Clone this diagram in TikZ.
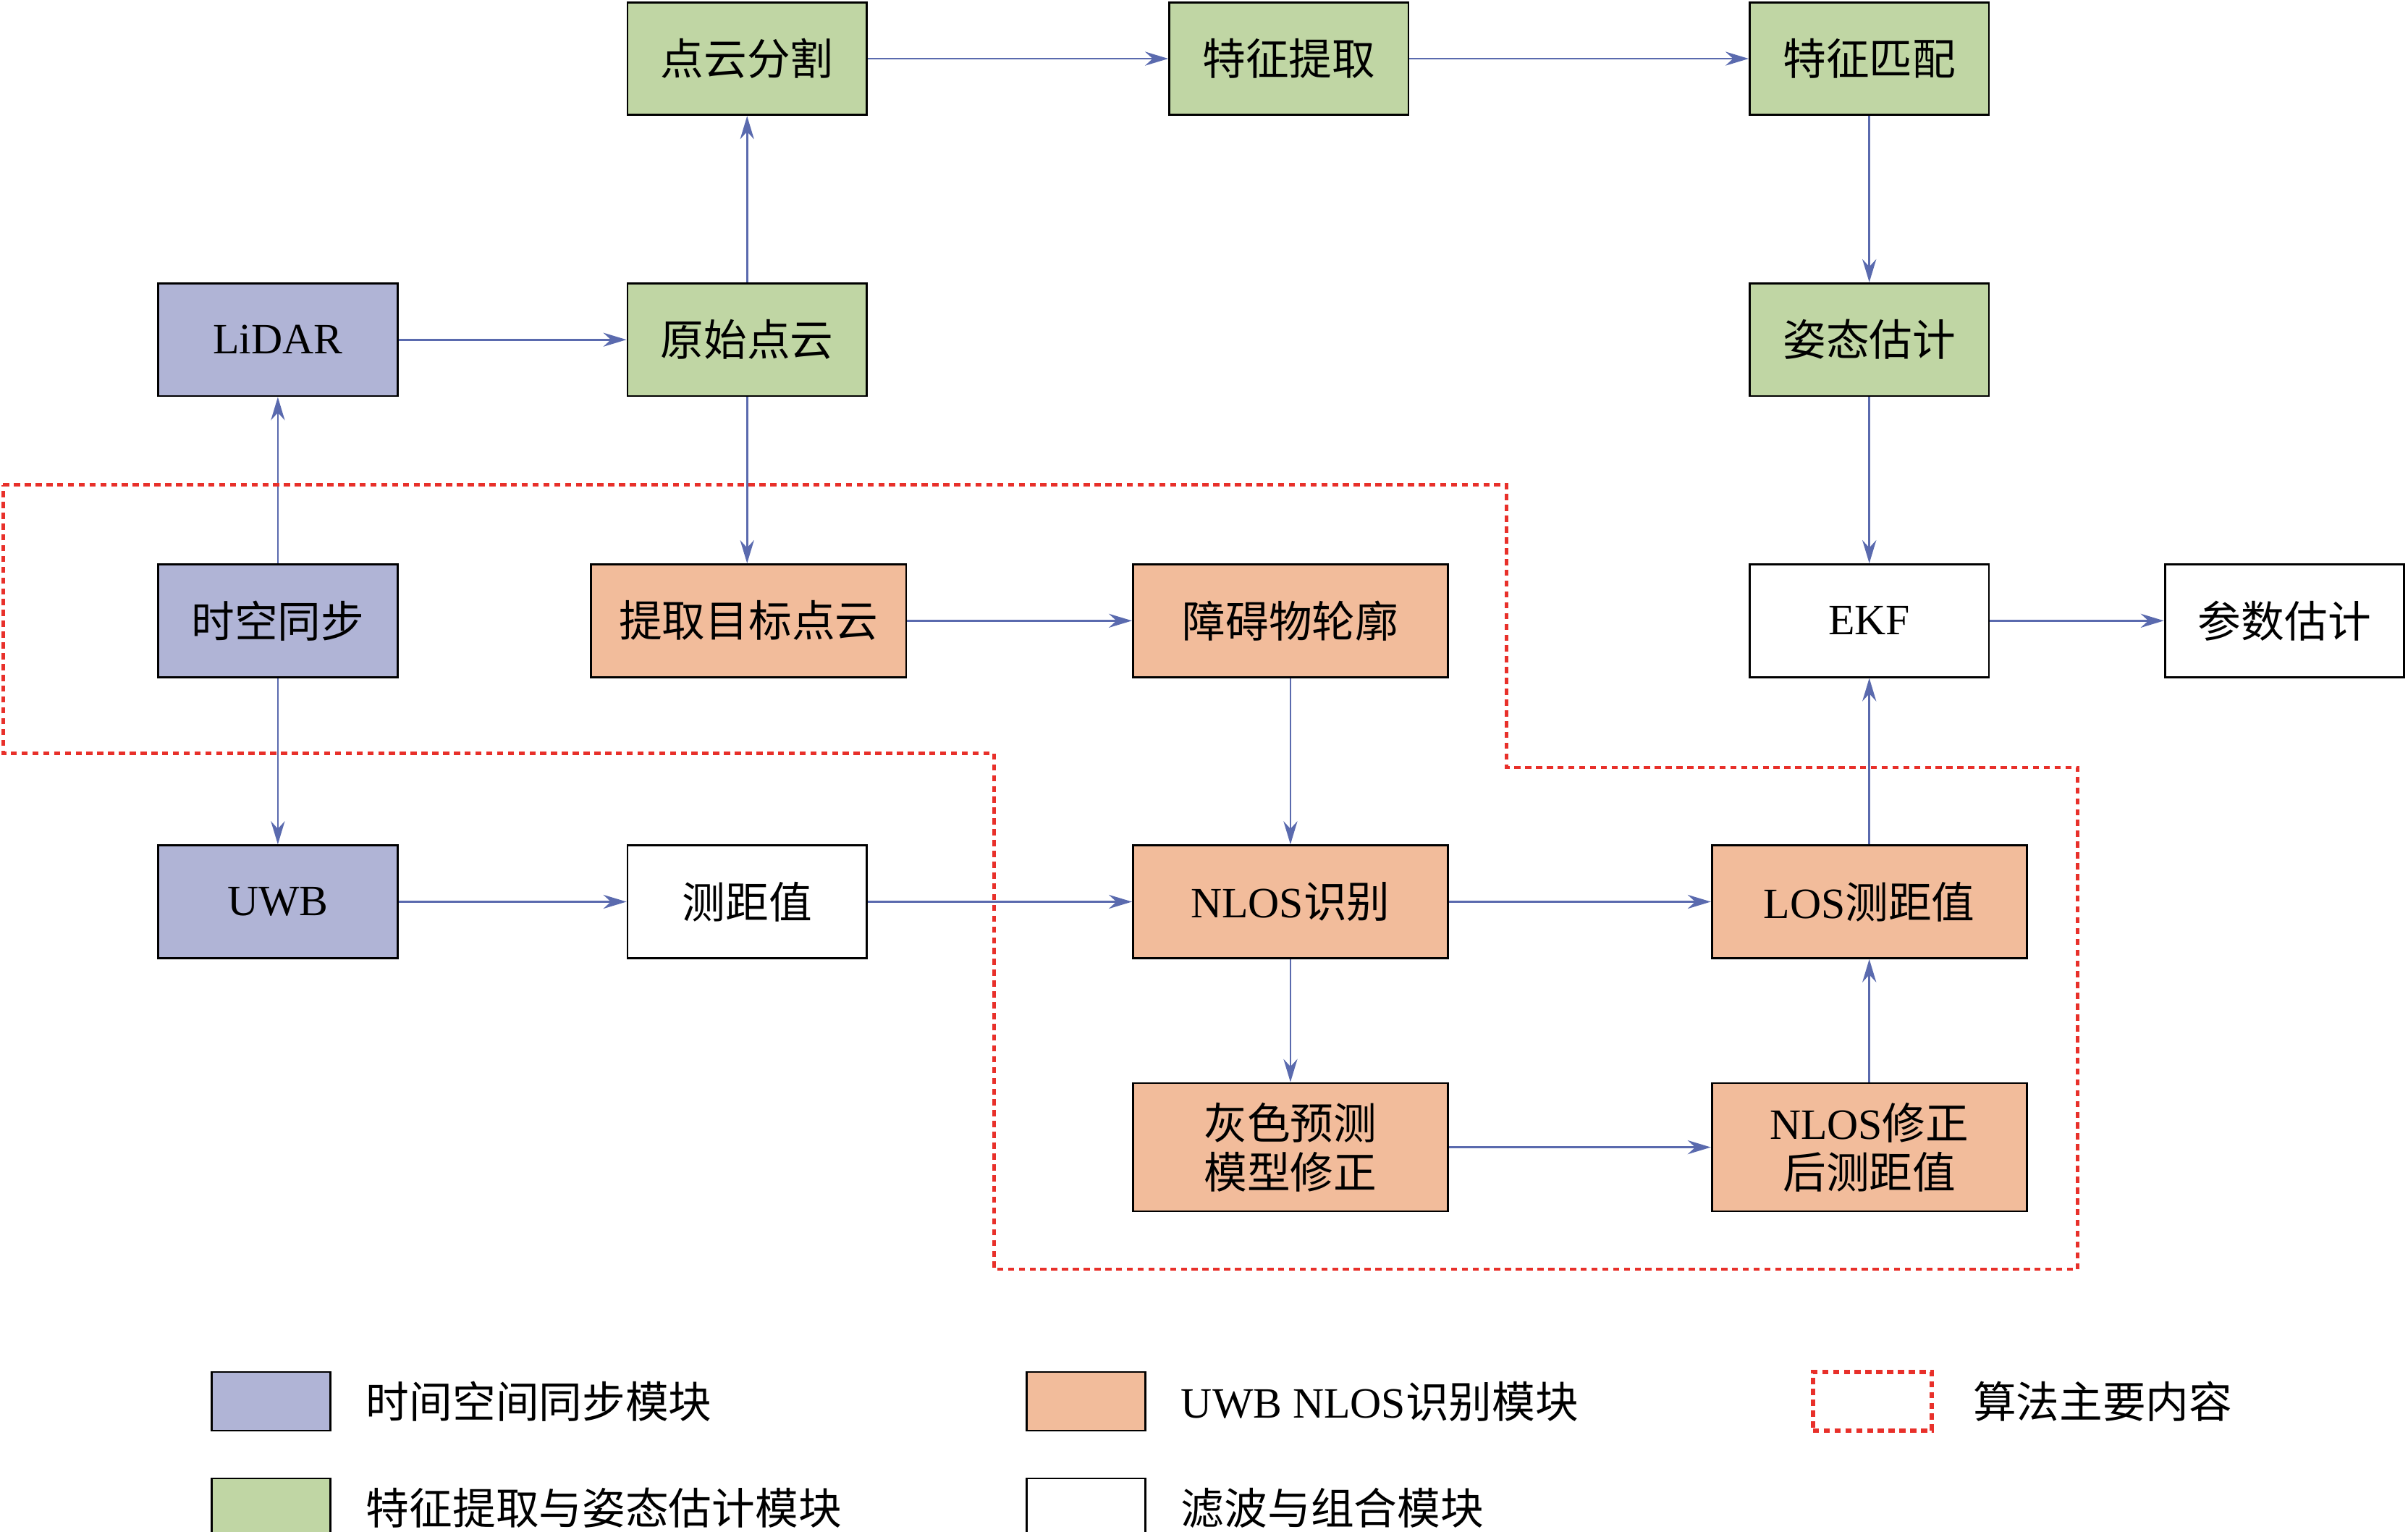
\documentclass[tikz,border=0pt]{standalone}
\usepackage{fontspec}
\setmainfont{Liberation Serif}
\newfontfamily\cjk{Noto Sans CJK SC}
\usetikzlibrary{arrows.meta}
\definecolor{cb}{HTML}{B0B4D6}
\definecolor{cg}{HTML}{C0D6A4}
\definecolor{co}{HTML}{F2BC9B}
\definecolor{ca}{HTML}{5A6AAE}
\definecolor{cr}{HTML}{E8302A}
\begin{document}
\begin{tikzpicture}[x=1pt,y=-1pt,
 bx/.style={draw=black,line width=1.3pt,minimum height=73pt,inner sep=0pt,align=center,font=\fontsize{28}{36}\selectfont},
 w155/.style={minimum width=155pt},
 w204/.style={minimum width=204pt},
 ar/.style={draw=ca,line width=1.3pt,-{Stealth[length=15pt,width=9pt]}},
 lg/.style={draw=black,line width=1.3pt,minimum width=77pt,minimum height=38pt,inner sep=0pt},
 lt/.style={anchor=west,font=\fontsize{28}{34}\selectfont,inner sep=0pt}]
\useasboundingbox (0,0) rectangle (1560,992);
\node[bx,w155,fill=cg] (pcs) at (484,38) {\cjk 点云分割};
\node[bx,w155,fill=cg] (fe) at (835,38) {\cjk 特征提取};
\node[bx,w155,fill=cg] (fm) at (1211,38) {\cjk 特征匹配};
\node[bx,w155,fill=cb] (lidar) at (180,220) {LiDAR};
\node[bx,w155,fill=cg] (raw) at (484,220) {\cjk 原始点云};
\node[bx,w155,fill=cg] (pose) at (1211,220) {\cjk 姿态估计};
\node[bx,w155,fill=cb] (sync) at (180,402) {\cjk 时空同步};
\node[bx,w204,fill=co] (tgt) at (485,402) {\cjk 提取目标点云};
\node[bx,w204,fill=co] (obs) at (836,402) {\cjk 障碍物轮廓};
\node[bx,w155,fill=white] (ekf) at (1211,402) {EKF};
\node[bx,w155,fill=white] (par) at (1480,402) {\cjk 参数估计};
\node[bx,w155,fill=cb] (uwb) at (180,584) {UWB};
\node[bx,w155,fill=white] (rng) at (484,584) {\cjk 测距值};
\node[bx,w204,fill=co] (nlos) at (836,584) {NLOS{\cjk 识别}};
\node[bx,w204,fill=co] (los) at (1211,584) {LOS{\cjk 测距值}};
\node[bx,w204,fill=co,minimum height=83pt] (grey) at (836,743) {\cjk 灰色预测\\[-4pt]\cjk 模型修正};
\node[bx,w204,fill=co,minimum height=83pt] (corr) at (1211,743) {NLOS{\cjk 修正}\\[-4pt]{\cjk 后测距值}};
\draw[ar] (pcs) -- (fe);
\draw[ar] (fe) -- (fm);
\draw[ar] (fm) -- (pose);
\draw[ar] (pose) -- (ekf);
\draw[ar] (lidar) -- (raw);
\draw[ar] (raw) -- (pcs);
\draw[ar] (raw) -- (tgt.north -| raw);
\draw[ar] (sync) -- (lidar);
\draw[ar] (sync) -- (uwb);
\draw[ar] (tgt) -- (obs);
\draw[ar] (obs) -- (nlos);
\draw[ar] (uwb) -- (rng);
\draw[ar] (rng) -- (nlos);
\draw[ar] (nlos) -- (los);
\draw[ar] (nlos) -- (grey);
\draw[ar] (grey) -- (corr);
\draw[ar] (corr) -- (los);
\draw[ar] (los) -- (ekf);
\draw[ar] (ekf) -- (par);
\draw[cr,line width=2.2pt,dash pattern=on 4pt off 3pt] (2,314) -- (976,314) -- (976,497) -- (1346,497) -- (1346,822) -- (644,822) -- (644,488) -- (2,488) -- cycle;
\node[lg,fill=cb] (l1) at (175.5,907.5) {};
\node[lg,fill=cg] (l2) at (175.5,976.5) {};
\node[lg,fill=co] (l3) at (703.5,907.5) {};
\node[lg,fill=white] (l4) at (703.5,976.5) {};
\node[lg,draw=cr,line width=2.6pt,dash pattern=on 4pt off 3pt] (l5) at (1213,907.5) {};
\node[lt] at (237,907.5) {\cjk 时间空间同步模块};
\node[lt] at (237,976.5) {\cjk 特征提取与姿态估计模块};
\node[lt] at (765,907.5) {UWB NLOS{\cjk 识别模块}};
\node[lt] at (765,976.5) {\cjk 滤波与组合模块};
\node[lt] at (1278,907.5) {\cjk 算法主要内容};
\end{tikzpicture}
\end{document}
